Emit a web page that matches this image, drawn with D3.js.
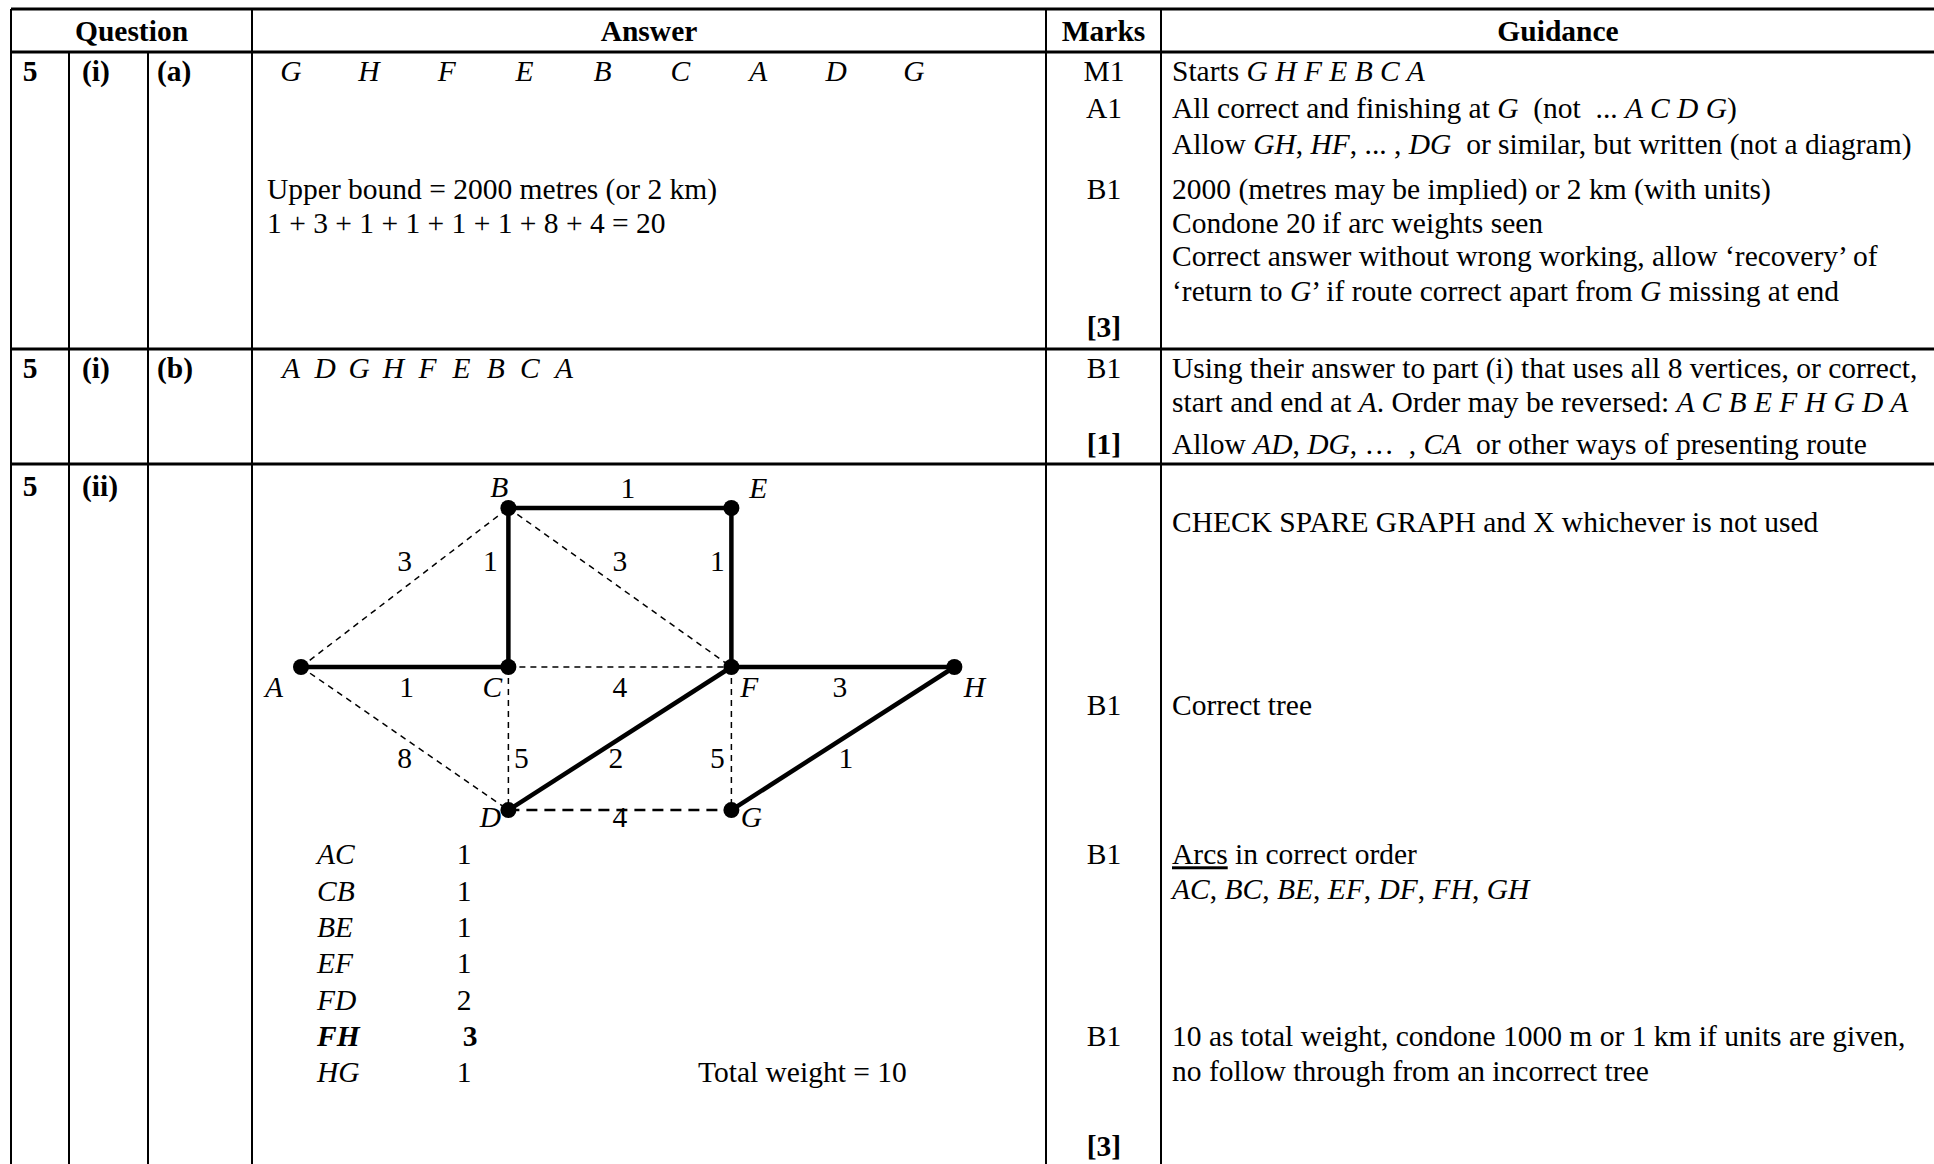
<!DOCTYPE html>
<html>
<head>
<meta charset="utf-8">
<script src="https://cdn.jsdelivr.net/npm/d3@7"></script>
<style>
body { margin: 0; background: #fff; }
svg text { font-family: "Liberation Serif", "Times New Roman", serif; font-size: 29.5px; fill: #000; white-space: pre; }
</style>
</head>
<body>
<script>
// ---- data ----
var headers = ["Question", "Answer", "Marks", "Guidance"];

var tourA = ["G", "H", "F", "E", "B", "C", "A", "D", "G"];
var tourB = ["A", "D", "G", "H", "F", "E", "B", "C", "A"];

var answerRow1 = ["Upper bound = 2000 metres (or 2 km)", "1 + 3 + 1 + 1 + 1 + 1 + 8 + 4 = 20"];

var marksRow1 = ["M1", "A1", "B1", "*[3]*"];
var marksRow2 = ["B1", "*[1]*"];
var marksRow3 = ["B1", "B1", "B1", "*[3]*"];

var guideRow1 = [
  "Starts _G H F E B C A_",
  "All correct and finishing at _G_  (not  ... _A C D G_)",
  "Allow _GH_, _HF_, ... , _DG_  or similar, but written (not a diagram)",
  "2000 (metres may be implied) or 2 km (with units)",
  "Condone 20 if arc weights seen",
  "Correct answer without wrong working, allow \u2018recovery\u2019 of",
  "\u2018return to _G_\u2019 if route correct apart from _G_ missing at end"
];
var guideRow2 = [
  "Using their answer to part (i) that uses all 8 vertices, or correct,",
  "start and end at _A_. Order may be reversed: _A C B E F H G D A_",
  "Allow _AD_, _DG_, \u2026  , _CA_  or other ways of presenting route"
];
var guideRow3 = [
  "CHECK SPARE GRAPH and X whichever is not used",
  "Correct tree",
  "~Arcs~ in correct order",
  "_AC_, _BC_, _BE_, _EF_, _DF_, _FH_, _GH_",
  "10 as total weight, condone 1000 m or 1 km if units are given,",
  "no follow through from an incorrect tree"
];

// vertices on a loose grid (column, row)
var nodes = [
  {id: "A", gx: 0,    gy: 1},
  {id: "B", gx: 0.93, gy: 0},
  {id: "C", gx: 0.93, gy: 1},
  {id: "D", gx: 0.93, gy: 1.9},
  {id: "E", gx: 1.93, gy: 0},
  {id: "F", gx: 1.93, gy: 1},
  {id: "G", gx: 1.93, gy: 1.9},
  {id: "H", gx: 2.93, gy: 1}
];

// arcs: weight and whether in the minimum spanning tree
var edges = [
  {s: "A", t: "B", w: 3, tree: false},
  {s: "A", t: "C", w: 1, tree: true},
  {s: "A", t: "D", w: 8, tree: false},
  {s: "B", t: "C", w: 1, tree: true},
  {s: "B", t: "E", w: 1, tree: true},
  {s: "B", t: "F", w: 3, tree: false},
  {s: "C", t: "F", w: 4, tree: false},
  {s: "C", t: "D", w: 5, tree: false},
  {s: "E", t: "F", w: 1, tree: true},
  {s: "D", t: "F", w: 2, tree: true},
  {s: "F", t: "G", w: 5, tree: false},
  {s: "F", t: "H", w: 3, tree: true},
  {s: "G", t: "H", w: 1, tree: true},
  {s: "D", t: "G", w: 4, tree: false}
];

var arcList = ["AC", "CB", "BE", "EF", "FD", "FH", "HG"];
var arcWeights = [1, 1, 1, 1, 2, 3, 1];
var arcBold = [false, false, false, false, false, true, false];
var totalText = "Total weight = 10";

// ---- layout ----
var W = 1934, H = 1164;
var svg = d3.select("body").append("svg").attr("width", W).attr("height", H);

var colX = [11, 69, 148, 252, 1046, 1161];
var rowY = [9, 52, 349, 464];
var markX = 1104, guideX = 1172;

// parse _italic_, *bold*, ~underline~
function segs(str) {
  return str.split(/(_[^_]*_|\*[^*]*\*|~[^~]*~)/).filter(function(s) { return s.length; }).map(function(s) {
    var c = s[0];
    if (c === "_") return {t: s.slice(1, -1), i: true};
    if (c === "*") return {t: s.slice(1, -1), b: true};
    if (c === "~") return {t: s.slice(1, -1), u: true};
    return {t: s};
  });
}

function writeLine(x, y, str, anchor) {
  var t = svg.append("text")
    .attr("x", x).attr("y", y).attr("dy", "0.35em")
    .attr("text-anchor", anchor || "start");
  segs(str).forEach(function(s) {
    var ts = t.append("tspan").text(s.t);
    if (s.i) ts.attr("font-style", "italic");
    if (s.b) ts.attr("font-weight", "bold");
    if (s.u) ts.attr("text-decoration", "underline");
  });
  return t;
}

// ---- grid lines ----
rowY.forEach(function(y) {
  svg.append("line").attr("x1", colX[0]).attr("x2", W).attr("y1", y).attr("y2", y)
    .attr("stroke", "#000").attr("stroke-width", 3);
});
colX.forEach(function(x, i) {
  var top = (i === 1 || i === 2) ? rowY[1] : rowY[0];
  svg.append("line").attr("x1", x).attr("x2", x).attr("y1", top).attr("y2", H)
    .attr("stroke", "#000").attr("stroke-width", 2);
});

// ---- header ----
var headX = [(colX[0] + colX[3]) / 2, (colX[3] + colX[4]) / 2, (colX[4] + colX[5]) / 2, 1558];
headers.forEach(function(h, i) {
  writeLine(headX[i], 31, "*" + h + "*", "middle");
});

// ---- question labels ----
var qRows = [[71, "(i)", "(a)"], [368, "(i)", "(b)"], [486, "(ii)", ""]];
qRows.forEach(function(r) {
  writeLine(30, r[0], "*5*", "middle");
  writeLine(82, r[0], "*" + r[1] + "*");
  if (r[2]) writeLine(157, r[0], "*" + r[2] + "*");
});

// ---- row 1 ----
var tourX = d3.scaleLinear().domain([0, tourA.length - 1]).range([291, 914]);
tourA.forEach(function(v, i) { writeLine(tourX(i), 71, "_" + v + "_", "middle"); });
var ansY1 = [189, 223];
answerRow1.forEach(function(s, i) { writeLine(267, ansY1[i], s); });

var markY1 = [71, 108, 189, 327];
marksRow1.forEach(function(s, i) { writeLine(markX, markY1[i], s, "middle"); });
var guideY1 = [71, 108, 144, 189, 223, 256, 291];
guideRow1.forEach(function(s, i) { writeLine(guideX, guideY1[i], s); });

// ---- row 2 ----
var tourX2 = d3.scaleLinear().domain([0, tourB.length - 1]).range([291, 564]);
tourB.forEach(function(v, i) { writeLine(tourX2(i), 368, "_" + v + "_", "middle"); });
var markY2 = [368, 444];
marksRow2.forEach(function(s, i) { writeLine(markX, markY2[i], s, "middle"); });
var guideY2 = [368, 402, 444];
guideRow2.forEach(function(s, i) { writeLine(guideX, guideY2[i], s); });

// ---- row 3: graph ----
var x = d3.scaleLinear().domain([0, 3]).range([301, 301 + 3 * 223]);
var y = d3.scaleLinear().domain([0, 1]).range([508, 667]);
var byId = {};
nodes.forEach(function(n) { byId[n.id] = n; });

var labelOff = {
  AB: [0, -27], AC: [2, 20], AD: [0, 19], BC: [-18, -27], BE: [8, -20], BF: [0, -27],
  CF: [0, 20], CD: [13, 19], EF: [-14, -27], DF: [-4, 19], FG: [-14, 19], FH: [-3, 20],
  GH: [3, 19], DG: [0, 7]
};
var nodeOff = {
  A: [-27, 20], B: [-9, -21], C: [-16, 20], D: [-18, 7],
  E: [27, -20], F: [18, 20], G: [20, 7], H: [20, 20]
};

var gEdges = svg.append("g");
gEdges.selectAll("line").data(edges).enter().append("line")
  .attr("x1", function(d) { return x(byId[d.s].gx); })
  .attr("y1", function(d) { return y(byId[d.s].gy); })
  .attr("x2", function(d) { return x(byId[d.t].gx); })
  .attr("y2", function(d) { return y(byId[d.t].gy); })
  .attr("stroke", "#000")
  .attr("stroke-width", function(d) { return d.tree ? 4.5 : (d.s + d.t === "DG" ? 2.5 : 1.5); })
  .attr("stroke-dasharray", function(d) { return d.tree ? null : (d.s + d.t === "DG" ? "11,7" : "6,5"); });

edges.forEach(function(d) {
  var a = byId[d.s], b = byId[d.t], off = labelOff[d.s + d.t];
  var mx = (x(a.gx) + x(b.gx)) / 2 + off[0];
  var my = (y(a.gy) + y(b.gy)) / 2 + off[1];
  writeLine(mx, my, String(d.w), "middle");
});

svg.append("g").selectAll("circle").data(nodes).enter().append("circle")
  .attr("cx", function(d) { return x(d.gx); })
  .attr("cy", function(d) { return y(d.gy); })
  .attr("r", 8).attr("fill", "#000");

nodes.forEach(function(n) {
  var o = nodeOff[n.id];
  writeLine(x(n.gx) + o[0], y(n.gy) + o[1], "_" + n.id + "_", "middle");
});

// arc list
var listY = d3.scaleLinear().domain([0, arcList.length - 1]).range([854, 1072]);
arcList.forEach(function(a, i) {
  var b = arcBold[i];
  var t1 = writeLine(317, listY(i), "_" + a + "_");
  var t2 = writeLine(b ? 470 : 464, listY(i), String(arcWeights[i]), "middle");
  if (b) {
    t1.attr("font-weight", "bold");
    t2.attr("font-weight", "bold");
  }
});
writeLine(698, listY(arcList.length - 1), totalText);

var markY3 = [705, 854, 1036, 1146];
marksRow3.forEach(function(s, i) { writeLine(markX, markY3[i], s, "middle"); });
var guideY3 = [522, 705, 854, 889, 1036, 1071];
guideRow3.forEach(function(s, i) { writeLine(guideX, guideY3[i], s); });
</script>
</body>
</html>
